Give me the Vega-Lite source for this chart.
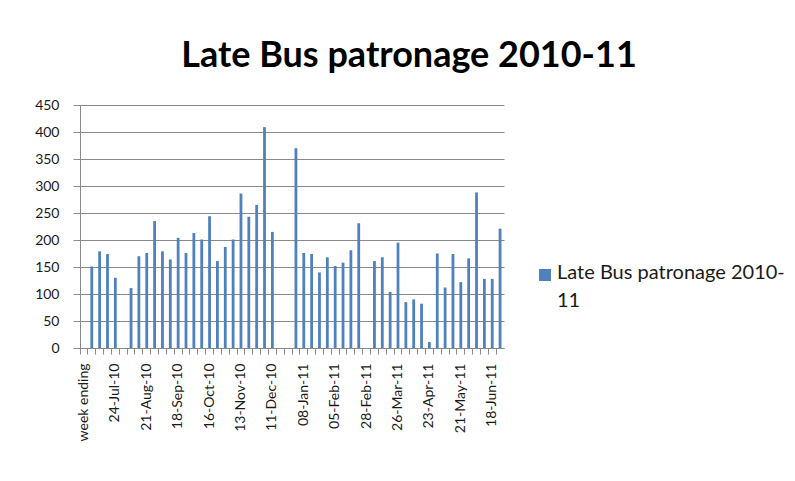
{
  "$schema": "https://vega.github.io/schema/vega-lite/v6.json",
  "width": 424,
  "height": 243,
  "autosize": "none",
  "padding": {"left": 80, "top": 105, "right": 291, "bottom": 133},
  "background": "white",
  "config": {"view": {"stroke": null}, "font": "Lato"},
  "title": {
    "text": "Late Bus patronage 2010-11",
    "font": "Lato",
    "fontSize": 36,
    "fontWeight": "bold",
    "color": "#000000",
    "anchor": "middle",
    "frame": "group",
    "dx": 117,
    "dy": 43,
    "baseline": "alphabetic",
    "offset": 38
  },
  "data": {
    "values": [
      {"week": "week ending", "patrons": null},
      {"week": "03-Jul-10", "patrons": 151},
      {"week": "10-Jul-10", "patrons": 179},
      {"week": "17-Jul-10", "patrons": 174},
      {"week": "24-Jul-10", "patrons": 130},
      {"week": "31-Jul-10", "patrons": null},
      {"week": "07-Aug-10", "patrons": 111},
      {"week": "14-Aug-10", "patrons": 170},
      {"week": "21-Aug-10", "patrons": 176},
      {"week": "28-Aug-10", "patrons": 235},
      {"week": "04-Sep-10", "patrons": 179},
      {"week": "11-Sep-10", "patrons": 164},
      {"week": "18-Sep-10", "patrons": 204},
      {"week": "25-Sep-10", "patrons": 176},
      {"week": "02-Oct-10", "patrons": 213},
      {"week": "09-Oct-10", "patrons": 201},
      {"week": "16-Oct-10", "patrons": 244},
      {"week": "23-Oct-10", "patrons": 161},
      {"week": "30-Oct-10", "patrons": 187},
      {"week": "06-Nov-10", "patrons": 201},
      {"week": "13-Nov-10", "patrons": 286},
      {"week": "20-Nov-10", "patrons": 243},
      {"week": "27-Nov-10", "patrons": 265},
      {"week": "04-Dec-10", "patrons": 409},
      {"week": "11-Dec-10", "patrons": 215},
      {"week": "18-Dec-10", "patrons": null},
      {"week": "25-Dec-10", "patrons": null},
      {"week": "01-Jan-11", "patrons": 370},
      {"week": "08-Jan-11", "patrons": 176},
      {"week": "15-Jan-11", "patrons": 174},
      {"week": "22-Jan-11", "patrons": 140},
      {"week": "29-Jan-11", "patrons": 168},
      {"week": "05-Feb-11", "patrons": 152},
      {"week": "12-Feb-11", "patrons": 158},
      {"week": "19-Feb-11", "patrons": 181},
      {"week": "21-Feb-11", "patrons": 231},
      {"week": "28-Feb-11", "patrons": null},
      {"week": "05-Mar-11", "patrons": 161},
      {"week": "12-Mar-11", "patrons": 168},
      {"week": "19-Mar-11", "patrons": 104},
      {"week": "26-Mar-11", "patrons": 195},
      {"week": "02-Apr-11", "patrons": 85},
      {"week": "09-Apr-11", "patrons": 90},
      {"week": "16-Apr-11", "patrons": 82},
      {"week": "23-Apr-11", "patrons": 11},
      {"week": "30-Apr-11", "patrons": 175},
      {"week": "07-May-11", "patrons": 112},
      {"week": "14-May-11", "patrons": 174},
      {"week": "21-May-11", "patrons": 122},
      {"week": "28-May-11", "patrons": 166},
      {"week": "04-Jun-11", "patrons": 288},
      {"week": "11-Jun-11", "patrons": 128},
      {"week": "18-Jun-11", "patrons": 128},
      {"week": "25-Jun-11", "patrons": 221}
    ]
  },
  "mark": {"type": "bar", "size": 2.8, "color": "#4F81BD"},
  "encoding": {
    "x": {
      "field": "week",
      "type": "nominal",
      "sort": null,
      "scale": {
        "domain": ["week ending", "03-Jul-10", "10-Jul-10", "17-Jul-10", "24-Jul-10", "31-Jul-10", "07-Aug-10", "14-Aug-10", "21-Aug-10", "28-Aug-10", "04-Sep-10", "11-Sep-10", "18-Sep-10", "25-Sep-10", "02-Oct-10", "09-Oct-10", "16-Oct-10", "23-Oct-10", "30-Oct-10", "06-Nov-10", "13-Nov-10", "20-Nov-10", "27-Nov-10", "04-Dec-10", "11-Dec-10", "18-Dec-10", "25-Dec-10", "01-Jan-11", "08-Jan-11", "15-Jan-11", "22-Jan-11", "29-Jan-11", "05-Feb-11", "12-Feb-11", "19-Feb-11", "21-Feb-11", "28-Feb-11", "05-Mar-11", "12-Mar-11", "19-Mar-11", "26-Mar-11", "02-Apr-11", "09-Apr-11", "16-Apr-11", "23-Apr-11", "30-Apr-11", "07-May-11", "14-May-11", "21-May-11", "28-May-11", "04-Jun-11", "11-Jun-11", "18-Jun-11", "25-Jun-11"],
        "paddingInner": 0,
        "paddingOuter": 0
      },
      "axis": {
        "title": null,
        "bandPosition": 0,
        "tickSize": 6,
        "tickColor": "#8a8a8a",
        "domainColor": "#8a8a8a",
        "labelAngle": -90,
        "labelPadding": 9,
        "labelFontSize": 14,
        "labelColor": "#1a1a1a",
        "labelFont": "Lato",
        "labelExpr": "indexof(['week ending','24-Jul-10','21-Aug-10','18-Sep-10','16-Oct-10','13-Nov-10','11-Dec-10','08-Jan-11','05-Feb-11','28-Feb-11','26-Mar-11','23-Apr-11','21-May-11','18-Jun-11'], datum.value) >= 0 ? datum.label : ''",
        "labelOverlap": false,
        "grid": false
      }
    },
    "y": {
      "field": "patrons",
      "type": "quantitative",
      "scale": {"domain": [0, 450], "nice": false},
      "axis": {
        "title": null,
        "values": [0, 50, 100, 150, 200, 250, 300, 350, 400, 450],
        "grid": true,
        "gridColor": "#8a8a8a",
        "domainColor": "#8a8a8a",
        "tickColor": "#8a8a8a",
        "tickSize": 7,
        "labelPadding": 14,
        "labelFontSize": 14,
        "labelColor": "#1a1a1a",
        "labelFont": "Lato"
      }
    },
    "color": {
      "datum": "Late Bus patronage 2010-11",
      "type": "nominal",
      "scale": {"range": ["#4F81BD"]},
      "legend": {
        "title": null,
        "orient": "none",
        "legendX": 455,
        "legendY": 160,
        "symbolType": "square",
        "symbolSize": 144,
        "symbolStrokeWidth": 0,
        "labelFontSize": 20,
        "labelOffset": 2,
        "labelFont": "Lato",
        "labelColor": "#1a1a1a",
        "labelLimit": 0,
        "labelExpr": "['Late Bus patronage 2010-', '11']",
        "labelBaseline": "top",
        "encode": {"labels": {"update": {"lineHeight": {"value": 28}, "dy": {"value": -12}}}}
      }
    }
  }
}
